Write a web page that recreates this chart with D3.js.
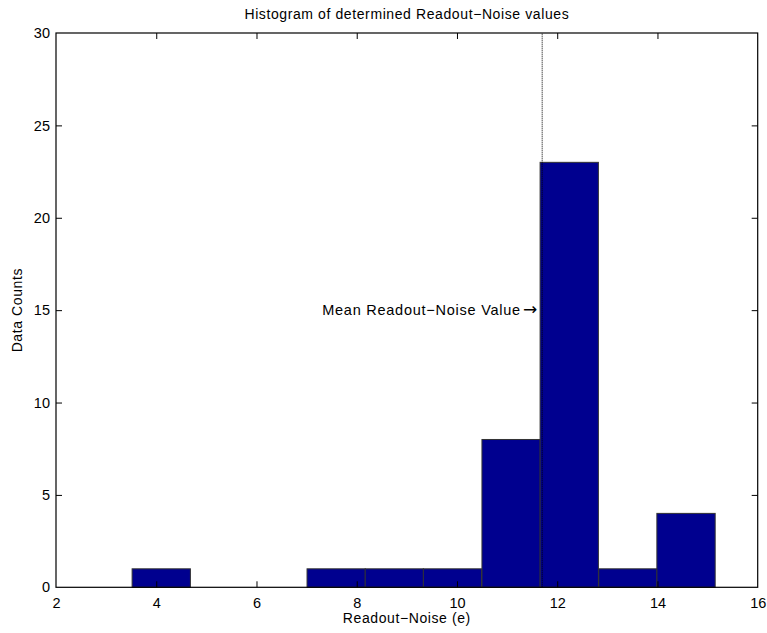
<!DOCTYPE html>
<html>
<head>
<meta charset="utf-8">
<script src="https://cdn.jsdelivr.net/npm/d3@7"></script>
<style>
  html, body { margin: 0; padding: 0; background: #fff; }
  svg text { font-family: "Liberation Sans", Arial, Helvetica, sans-serif; fill: #000; }
</style>
</head>
<body>
<svg id="chart" width="767" height="633"></svg>
<script>
// Histogram bins (centres in electrons) and their counts
const binCenters = [4.10, 5.26, 6.42, 7.59, 8.75, 9.91, 11.08, 12.24, 13.41, 14.57];
const binCounts  = [1, 0, 0, 1, 1, 1, 8, 23, 1, 4];
const binWidth = 1.163;
const meanNoise = 11.70;
const annotationLevel = 15;

const xTicks = [2, 4, 6, 8, 10, 12, 14, 16];
const yTicks = [0, 5, 10, 15, 20, 25, 30];
const xDomain = [2, 16];
const yDomain = [0, 30];

const titleText = "Histogram of determined Readout\u2212Noise values";
const xLabelText = "Readout\u2212Noise (e)";
const yLabelText = "Data Counts";
const annotationText = "Mean Readout\u2212Noise Value";
const annotationArrow = "\u2192";

const svg = d3.select("#chart");
const plotLeft = 56, plotRight = 757.7, plotTop = 33, plotBottom = 587.3;

const x = d3.scaleLinear().domain(xDomain).range([plotLeft, plotRight]);
const y = d3.scaleLinear().domain(yDomain).range([plotBottom, plotTop]);

const fontSize = "14px";
const spacing = "0.6px";

// bars
svg.append("g")
  .selectAll("rect")
  .data(binCenters.map((c, i) => ({ c, n: binCounts[i] })).filter(d => d.n > 0))
  .join("rect")
  .attr("x", d => x(d.c - binWidth / 2))
  .attr("width", d => x(d.c + binWidth / 2) - x(d.c - binWidth / 2))
  .attr("y", d => y(d.n))
  .attr("height", d => y(0) - y(d.n))
  .attr("fill", "#00008f")
  .attr("stroke", "#333")
  .attr("stroke-width", 1);

// mean marker
svg.append("line")
  .attr("x1", x(meanNoise)).attr("x2", x(meanNoise))
  .attr("y1", y(yDomain[0])).attr("y2", y(yDomain[1]))
  .attr("stroke", "#000")
  .attr("stroke-width", 1)
  .attr("stroke-dasharray", "1,1");

const note = svg.append("text")
  .attr("x", x(meanNoise) - 5)
  .attr("y", y(annotationLevel))
  .attr("dy", "0.35em")
  .attr("text-anchor", "end")
  .style("font-size", "14.5px")
  .style("letter-spacing", "0.75px");
note.append("tspan").text(annotationText);
note.append("tspan")
  .attr("dx", 2)
  .style("font-family", "'DejaVu Sans', sans-serif")
  .style("font-size", "17px")
  .style("letter-spacing", "0px")
  .text(annotationArrow);

// axes with inward ticks on all four sides
const tickLen = 6;
const xAxisB = d3.axisBottom(x).tickValues(xTicks).tickSizeInner(-tickLen).tickSizeOuter(0).tickPadding(10);
const xAxisT = d3.axisTop(x).tickValues(xTicks).tickSizeInner(-tickLen).tickSizeOuter(0).tickFormat("");
const yAxisL = d3.axisLeft(y).tickValues(yTicks).tickSizeInner(-tickLen).tickSizeOuter(0).tickPadding(6);
const yAxisR = d3.axisRight(y).tickValues(yTicks).tickSizeInner(-tickLen).tickSizeOuter(0).tickFormat("");

function styleAxis(g) {
  g.select(".domain").remove();
  g.selectAll(".tick line").attr("stroke", "#000").attr("stroke-width", 1);
  g.selectAll(".tick text").style("font-size", "14.5px").style("font-family", "'Liberation Sans', Arial, sans-serif").attr("fill", "#000");
}

svg.append("g").attr("transform", `translate(0,${plotBottom})`).call(xAxisB).call(styleAxis);
svg.append("g").attr("transform", `translate(0,${plotTop})`).call(xAxisT).call(styleAxis);
svg.append("g").attr("transform", `translate(${plotLeft},0)`).call(yAxisL).call(styleAxis);
svg.append("g").attr("transform", `translate(${plotRight},0)`).call(yAxisR).call(styleAxis);

// drop end ticks that coincide with the frame
svg.selectAll(".tick line").filter(function () {
  const t = d3.select(this.parentNode).datum();
  return t === xDomain[0] || t === xDomain[1] || t === yDomain[0] || t === yDomain[1];
}).remove();

// frame
svg.append("rect")
  .attr("x", plotLeft).attr("y", plotTop)
  .attr("width", plotRight - plotLeft).attr("height", plotBottom - plotTop)
  .attr("fill", "none").attr("stroke", "#000").attr("stroke-width", 1.2);

// titles
svg.append("text")
  .attr("x", (plotLeft + plotRight) / 2).attr("y", 19)
  .attr("text-anchor", "middle")
  .style("font-size", fontSize).style("letter-spacing", spacing)
  .text(titleText);

svg.append("text")
  .attr("x", (plotLeft + plotRight) / 2).attr("y", 623)
  .attr("text-anchor", "middle")
  .style("font-size", fontSize).style("letter-spacing", spacing)
  .text(xLabelText);

svg.append("text")
  .attr("transform", `translate(22,${(plotTop + plotBottom) / 2}) rotate(-90)`)
  .attr("text-anchor", "middle")
  .style("font-size", fontSize).style("letter-spacing", spacing)
  .text(yLabelText);
</script>
</body>
</html>
